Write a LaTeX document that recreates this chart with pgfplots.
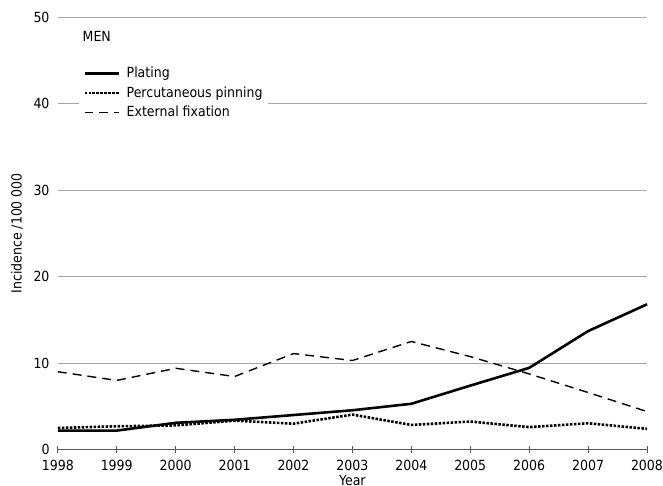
\documentclass[border=0pt]{standalone}
\usepackage{fontspec}
\setmainfont{DejaVu Sans Condensed}
\usepackage{pgfplots}
\pgfplotsset{compat=1.18}
\begin{document}
\fontsize{14}{16}\selectfont
\begin{tikzpicture}
\begin{axis}[
  scale only axis,
  width=591pt, height=434pt,
  xmin=1998, xmax=2008, ymin=0, ymax=50,
  axis x line=bottom, axis y line=left,
  y axis line style={draw=none},
  x axis line style={-, gray!70!black, line width=0.8pt},
  xtick={1998,...,2008},
  ytick={0,10,...,50},
  xticklabel style={/pgf/number format/1000 sep={}},
  /pgf/number format/assume math mode=true,
  tick label style={font=\fontsize{14}{16}\selectfont},
  label style={font=\fontsize{14}{16}\selectfont},
  tick align=center,
  xtick style={gray!70!black, line width=0.8pt},
  major tick length=7pt,
  ytick style={draw=none},
  ymajorgrids,
  grid style={gray!70, line width=0.7pt},
  xlabel={Year}, ylabel={Incidence /100 000},
  xlabel style={yshift=5pt},
  ylabel style={yshift=1pt},
  xticklabel style={yshift=-2pt},
  legend cell align=left,
  legend style={at={(rel axis cs:0.036,0.894)}, anchor=north west, draw=none, fill=white, font=\fontsize{14}{16}\selectfont, row sep=3pt, column sep=4pt, inner xsep=4pt},
  legend image code/.code={\draw[#1] (-4pt,0cm) -- (31pt,0cm);},
  clip=false,
]
\addplot[black, line width=2.6pt] coordinates {
(1998,2.2)(1999,2.2)(2000,3.1)(2001,3.45)(2002,4.0)(2003,4.55)(2004,5.3)(2005,7.4)(2006,9.45)(2007,13.7)(2008,16.8)};
\addlegendentry{Plating}
\addplot[black, line width=2.6pt, dash pattern=on 2.5pt off 1.5pt] coordinates {
(1998,2.5)(1999,2.7)(2000,2.8)(2001,3.35)(2002,3.0)(2003,4.05)(2004,2.85)(2005,3.25)(2006,2.6)(2007,3.05)(2008,2.4)};
\addlegendentry{Percutaneous pinning}
\addplot[black, line width=1.4pt, dash pattern=on 9pt off 6pt] coordinates {
(1998,9.0)(1999,8.0)(2000,9.4)(2001,8.45)(2002,11.1)(2003,10.3)(2004,12.5)(2005,10.75)(2006,8.75)(2007,6.6)(2008,4.4)};
\addlegendentry{External fixation\hspace{25pt}}
\node[anchor=west] at (rel axis cs:0.034,0.956) {MEN};
\end{axis}
\pgfresetboundingbox
\path (-58pt,-36pt) rectangle (607pt,451pt);
\end{tikzpicture}
\end{document}
